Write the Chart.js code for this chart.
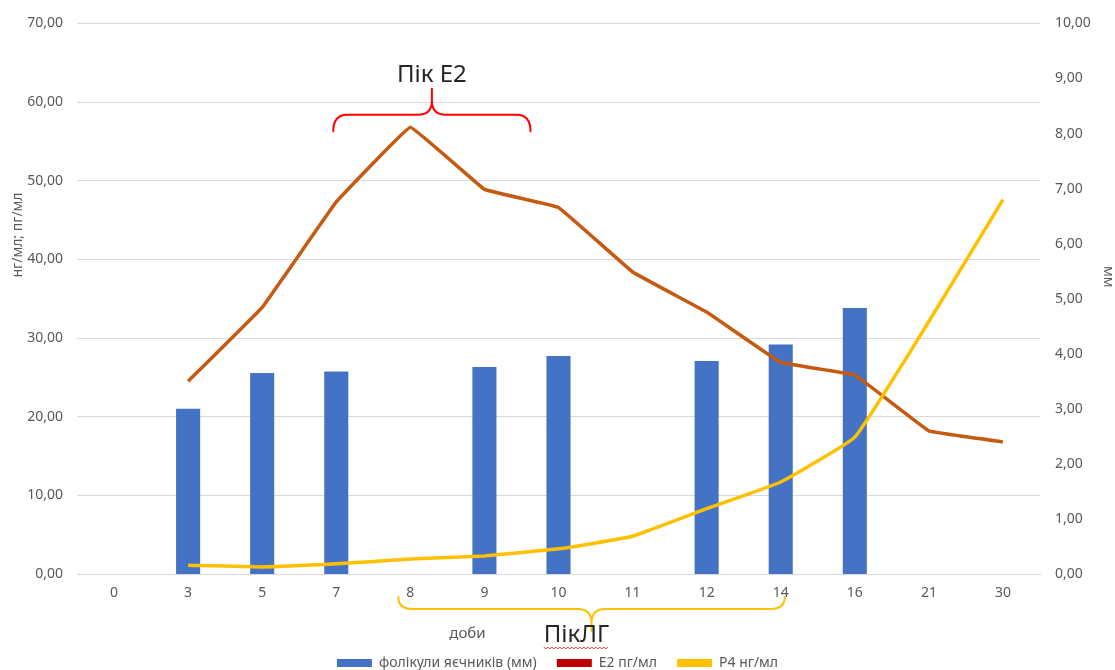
<!DOCTYPE html>
<html>
<head>
<meta charset="utf-8">
<script src="https://cdn.jsdelivr.net/npm/chart.js@4"></script>
<style>
  html, body { margin: 0; padding: 0; background: #fff; }
  #wrap { width: 1115px; height: 670px; }
</style>
</head>
<body>
<div id="wrap"><canvas id="myChart" width="1115" height="670"></canvas></div>
<script>
// days of the cycle along the x-axis
var days = ['0', '3', '5', '7', '8', '9', '10', '11', '12', '14', '16', '21', '30'];
// follicle size, mm (right axis)
var follicles = [null, 3.00, 3.65, 3.68, null, 3.76, 3.96, null, 3.87, 4.17, 4.83, null, null];
// estradiol, pg/ml (left axis)
var e2 = [null, 24.5, 33.9, 47.3, 56.8, 48.9, 46.6, 38.4, 33.3, 26.9, 25.3, 18.2, 16.8];
// progesterone, ng/ml (left axis)
var p4 = [null, 1.1, 0.9, 1.3, 1.9, 2.3, 3.2, 4.8, 8.3, 11.7, 17.4, 32.1, 47.6];

var FONT = '"Noto Sans", "Open Sans", sans-serif';
var GREY = '#595959';

function fmt(v) {
  return Number(v).toFixed(2).replace('.', ',');
}

// curly brace between x1 and x2, tip goes from yMid towards yTip
function brace(ctx, x1, x2, yEnd, yMid, yTip, r, color) {
  var xc = (x1 + x2) / 2;
  var s = yTip < yMid ? -1 : 1;
  ctx.save();
  ctx.strokeStyle = color;
  ctx.lineWidth = 2;
  ctx.lineCap = 'round';
  ctx.beginPath();
  ctx.moveTo(x1, yEnd);
  ctx.quadraticCurveTo(x1, yMid, x1 + r, yMid);
  ctx.lineTo(xc - r, yMid);
  ctx.quadraticCurveTo(xc, yMid, xc, yMid + s * r);
  ctx.lineTo(xc, yTip);
  ctx.moveTo(xc, yMid + s * r);
  ctx.quadraticCurveTo(xc, yMid, xc + r, yMid);
  ctx.lineTo(x2 - r, yMid);
  ctx.quadraticCurveTo(x2, yMid, x2, yEnd);
  ctx.stroke();
  ctx.restore();
}

var notes = {
  id: 'notes',
  afterDraw: function(chart) {
    var ctx = chart.ctx;
    var xs = chart.scales.x, ys = chart.scales.y;
    var area = chart.chartArea;
    var px = function(i) { return xs.getPixelForValue(i); };

    // E2 peak
    brace(ctx, px(3) - 3, px(6) - 28, ys.getPixelForValue(56.3), ys.getPixelForValue(58.4),
          ys.getPixelForValue(61.7), 14, '#FF0000');
    ctx.save();
    ctx.fillStyle = '#262626';
    ctx.font = '24px ' + FONT;
    ctx.textAlign = 'center';
    ctx.textBaseline = 'middle';
    ctx.fillText('Пік Е2', (px(3) + px(6) - 31) / 2, ys.getPixelForValue(63.4));
    ctx.restore();

    // LH peak, under the axis
    var b = area.bottom;
    brace(ctx, px(4) - 12, px(9) + 4, b + 23, b + 35, b + 57, 14, '#FFC000');
    ctx.save();
    ctx.fillStyle = '#262626';
    ctx.font = '24px ' + FONT;
    ctx.textAlign = 'center';
    ctx.textBaseline = 'middle';
    var lx = px(6) + 18;
    ctx.fillText('ПікЛГ', lx, b + 61);
    var w = ctx.measureText('ПікЛГ').width;
    // spell-check squiggle
    ctx.strokeStyle = '#E03030';
    ctx.lineWidth = 1;
    ctx.beginPath();
    for (var x = lx - w / 2; x <= lx + w / 2; x += 2) {
      var yy = b + 74 + ((Math.round((x - lx) / 2) % 2) ? 1 : -1);
      if (x === lx - w / 2) ctx.moveTo(x, yy); else ctx.lineTo(x, yy);
    }
    ctx.stroke();
    ctx.restore();

    // axis titles
    ctx.save();
    ctx.fillStyle = GREY;
    ctx.font = '15px ' + FONT;
    ctx.textAlign = 'center';
    ctx.textBaseline = 'middle';
    ctx.fillText('доби', px(5) - 17, b + 60);
    ctx.translate(18, ys.getPixelForValue(43.1));
    ctx.rotate(-Math.PI / 2);
    ctx.font = '14px ' + FONT;
    ctx.fillText('нг/мл; пг/мл', 0, 0);
    ctx.restore();

    ctx.save();
    ctx.fillStyle = GREY;
    ctx.font = '14px ' + FONT;
    ctx.textAlign = 'center';
    ctx.textBaseline = 'middle';
    ctx.translate(1108, chart.scales.y1.getPixelForValue(5.4));
    ctx.rotate(Math.PI / 2);
    ctx.fillText('мм', 0, 0);
    ctx.restore();
  }
};

var ctx = document.getElementById('myChart');
var myChart = new Chart(ctx, {
  type: 'bar',
  data: {
    labels: days,
    datasets: [
      {
        type: 'bar',
        label: 'фолікули яєчників (мм)',
        data: follicles,
        yAxisID: 'y1',
        backgroundColor: '#4472C4',
        categoryPercentage: 1,
        barPercentage: 0.325,
        order: 3
      },
      {
        type: 'line',
        label: 'E2 пг/мл',
        data: e2,
        yAxisID: 'y',
        borderColor: '#C55A11',
        backgroundColor: '#C00000',
        borderWidth: 3.5,
        pointRadius: 0,
        tension: 0.05,
        fill: false,
        order: 2
      },
      {
        type: 'line',
        label: 'P4 нг/мл',
        data: p4,
        yAxisID: 'y',
        borderColor: '#FFC000',
        backgroundColor: '#FFC000',
        borderWidth: 3.5,
        pointRadius: 0,
        tension: 0.1,
        fill: false,
        order: 1
      }
    ]
  },
  options: {
    responsive: false,
    animation: false,
    layout: { padding: { top: 14, bottom: -10, left: 0, right: 0 } },
    plugins: {
      tooltip: { enabled: false },
      legend: {
        position: 'bottom',
        labels: {
          color: GREY,
          font: { family: FONT, size: 14 },
          boxWidth: 35,
          boxHeight: 8,
          padding: 20,
          sort: function(a, b) { return a.datasetIndex - b.datasetIndex; },
          generateLabels: function(chart) {
            return chart.data.datasets.map(function(ds, i) {
              return {
                text: ds.label,
                fillStyle: ds.backgroundColor,
                strokeStyle: ds.backgroundColor,
                lineWidth: 0,
                datasetIndex: i,
                fontColor: GREY
              };
            });
          }
        }
      }
    },
    scales: {
      x: {
        grid: { display: false, drawTicks: false },
        border: { color: '#D9D9D9', width: 1 },
        ticks: { color: GREY, font: { family: FONT, size: 14 }, padding: 11, maxRotation: 0, autoSkip: false },
        afterFit: function(s) { s.height = 62; }
      },
      y: {
        position: 'left',
        min: 0, max: 70,
        ticks: { stepSize: 10, color: GREY, font: { family: FONT, size: 14 }, padding: 14, callback: fmt },
        grid: { color: '#D9D9D9', drawTicks: false },
        border: { display: false },
        afterFit: function(s) { s.width = 77; }
      },
      y1: {
        position: 'right',
        min: 0, max: 10,
        ticks: { stepSize: 1, color: GREY, font: { family: FONT, size: 14 }, padding: 15, callback: fmt },
        grid: { display: false, drawTicks: false },
        border: { display: false },
        afterFit: function(s) { s.width = 75; }
      }
    }
  },
  plugins: [notes]
});
</script>
</body>
</html>
